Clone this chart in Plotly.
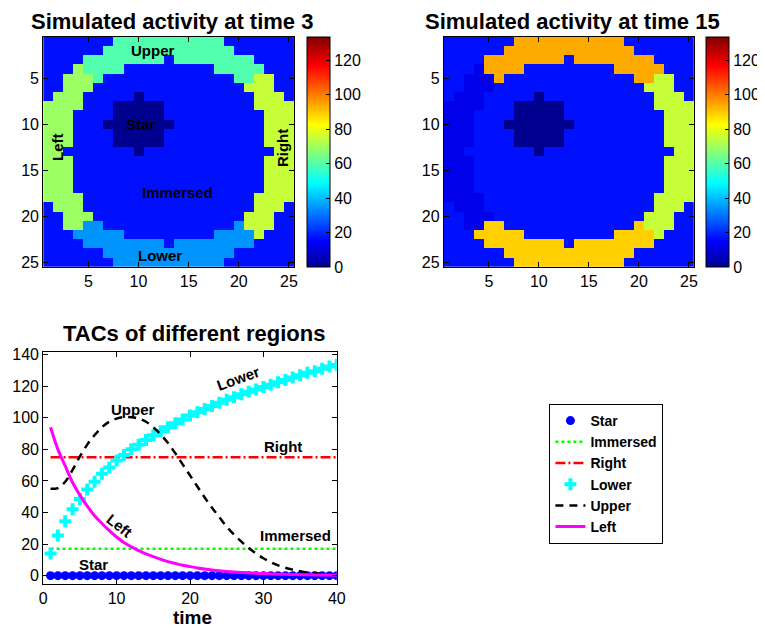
import plotly.graph_objects as go

# ---------------- data ----------------
time = [1, 2, 3, 4, 5, 6, 7, 8, 9, 10, 11, 12, 13, 14, 15, 16, 17, 18, 19, 20,
        21, 22, 23, 24, 25, 26, 27, 28, 29, 30, 31, 32, 33, 34, 35, 36, 37, 38, 39, 40]

star = [0, 0, 0, 0, 0, 0, 0, 0, 0, 0, 0, 0, 0, 0, 0, 0, 0, 0, 0, 0,
        0, 0, 0, 0, 0, 0, 0, 0, 0, 0, 0, 0, 0, 0, 0, 0, 0, 0, 0, 0]
immersed = [17, 17, 17, 17, 17, 17, 17, 17, 17, 17, 17, 17, 17, 17, 17, 17, 17, 17, 17, 17,
            17, 17, 17, 17, 17, 17, 17, 17, 17, 17, 17, 17, 17, 17, 17, 17, 17, 17, 17, 17]
right = [75, 75, 75, 75, 75, 75, 75, 75, 75, 75, 75, 75, 75, 75, 75, 75, 75, 75, 75, 75,
         75, 75, 75, 75, 75, 75, 75, 75, 75, 75, 75, 75, 75, 75, 75, 75, 75, 75, 75, 75]
lower = [14, 25.5, 34.5, 42, 48.5, 54.5, 59.5, 64.5, 68.5, 73, 76.5, 80, 83, 86, 89, 91.5, 94, 96.5, 99, 101.5,
         103.5, 105.5, 107.5, 109.5, 111.5, 113, 115, 116.5, 118, 119.5, 121, 122.5, 124, 125.5, 127, 128.5, 129.5, 131, 132.5, 133.5]
upper = [55, 55.5, 59.5, 67, 75.5, 83, 89, 94, 97.5, 99.5, 100.5, 100.3, 99.5, 97.5, 94, 89.5, 84, 77.5, 70.5, 63.5,
         56.5, 49.5, 43, 37, 31, 26, 21.5, 17.5, 14, 11, 8.5, 6.5, 5, 3.8, 2.8, 2, 1.5, 1.1, 0.9, 0.7]
left = [94, 80, 69.5, 59, 51, 44, 38, 33, 28.5, 24.5, 21, 18.3, 15.8, 13.8, 12, 10.3, 8.9, 7.7, 6.6, 5.7,
        4.9, 4.2, 3.6, 3.1, 2.7, 2.3, 2.0, 1.7, 1.5, 1.3, 1.1, 0.95, 0.8, 0.7, 0.6, 0.52, 0.45, 0.4, 0.35, 0.3]

# region map of the 25x25 phantom ('.' = background, same as immersed)
region_map = [
    ".......UUUUUUUUUUU.......",
    "......UUUUUUUUUUUUU......",
    "....UUUUUUUUIUUUUUUUU....",
    "...LUUUUIIIIIIIIIUUUUU...",
    "..LLLUIIIIIIIIIIIIIUURR..",
    "..LLLIIIIIIIIIIIIIIIRRR..",
    ".LLLIIIIISIIIIIIIIIIIRRR.",
    "LLLLIIISSSSSIIIIIIIIIRRRR",
    "LLLIIIISSSSSIIIIIIIIIIRRR",
    "LLLIIISSSSSSSIIIIIIIIIRRR",
    "LLLIIIISSSSSIIIIIIIIIIRRR",
    "LLLIIIISSSSSIIIIIIIIIIRRR",
    "LLIIIIIIISIIIIIIIIIIIIIRR",
    "LLLIIIIIIIIIIIIIIIIIIIRRR",
    "LLLIIIIIIIIIIIIIIIIIIIRRR",
    "LLLIIIIIIIIIIIIIIIIIIIRRR",
    "LLLIIIIIIIIIIIIIIIIIIIRRR",
    "LLLLIIIIIIIIIIIIIIIIIRRRR",
    ".LLLIIIIIIIIIIIIIIIIIRRR.",
    "..LLLIIIIIIIIIIIIIIIRRR..",
    "..LLDDIIIIIIIIIIIIIDRRR..",
    "...DDDDDIIIIIIIIIDDDDR...",
    "....DDDDDDDDIDDDDDDDD....",
    "......DDDDDDDDDDDDD......",
    ".......DDDDDDDDDDD.......",
]
pixel_idx = list(range(1, 26))
frames = [3, 15]
axis_ticks = [5, 10, 15, 20, 25]
cbar_ticks = [0, 20, 40, 60, 80, 100, 120]
line_xticks = [0, 10, 20, 30, 40]
line_yticks = [0, 20, 40, 60, 80, 100, 120, 140]

series = {"S": star, "I": immersed, ".": immersed, "R": right,
          "D": lower, "U": upper, "L": left}


def frame_image(t):
    k = time.index(t)
    return [[series[ch][k] for ch in row] for row in region_map]


zmax = max(max(star), max(immersed), max(right), max(lower), max(upper), max(left))

jet = [[0.0, "rgb(0,0,143)"], [7 / 63, "rgb(0,0,255)"], [23 / 63, "rgb(0,255,255)"],
       [39 / 63, "rgb(255,255,0)"], [55 / 63, "rgb(255,0,0)"], [1.0, "rgb(128,0,0)"]]

# the page body has an 8px margin: size the figure to the visible area
OFF = 8
W, H = 765 - OFF, 629 - OFF
FONT = "Liberation Sans"


def px(xs):
    return (xs - OFF) / W


def py(ys):
    return 1 - (ys - OFF) / H


fig = go.Figure()

cb_x = [308, 708]
for i, t in enumerate(frames):
    fig.add_trace(go.Heatmap(
        z=frame_image(t), x=pixel_idx, y=pixel_idx,
        colorscale=jet, zmin=0, zmax=zmax,
        xaxis="x" if i == 0 else "x2", yaxis="y" if i == 0 else "y2",
        showscale=True, hoverinfo="skip",
        colorbar=dict(
            x=px(cb_x[i]), xanchor="left", xref="paper",
            y=py(267), yanchor="bottom", yref="paper",
            len=230 / H, lenmode="fraction", thickness=23, thicknessmode="pixels",
            xpad=0, ypad=0, outlinecolor="black", outlinewidth=1,
            ticks="inside", ticklen=4, tickcolor="black",
            tickvals=cbar_ticks, tickfont=dict(size=16, color="black", family=FONT),
        ),
    ))

# line chart traces
fig.add_trace(go.Scatter(x=time, y=star, mode="markers", name="Star",
                         marker=dict(symbol="circle", size=9, color="rgb(0,0,255)"),
                         xaxis="x3", yaxis="y3"))
fig.add_trace(go.Scatter(x=time, y=immersed, mode="lines", name="Immersed",
                         line=dict(color="rgb(0,255,0)", width=2.5, dash="dot"),
                         xaxis="x3", yaxis="y3"))
fig.add_trace(go.Scatter(x=time, y=right, mode="lines", name="Right",
                         line=dict(color="rgb(255,0,0)", width=2.5, dash="10px,3px,2px,3px"),
                         xaxis="x3", yaxis="y3"))
fig.add_trace(go.Scatter(x=time, y=lower, mode="markers", name="Lower",
                         marker=dict(symbol="cross", size=10, color="rgb(0,255,255)"),
                         xaxis="x3", yaxis="y3"))
fig.add_trace(go.Scatter(x=time, y=upper, mode="lines", name="Upper",
                         line=dict(color="black", width=2.5, dash="8px,6px", shape="spline"),
                         xaxis="x3", yaxis="y3"))
fig.add_trace(go.Scatter(x=time, y=left, mode="lines", name="Left",
                         line=dict(color="rgb(255,0,255)", width=3, shape="spline"),
                         xaxis="x3", yaxis="y3"))

axis_common = dict(showline=True, linecolor="black", linewidth=1, mirror="allticks",
                   ticks="inside", ticklen=5, tickcolor="black", showgrid=False, zeroline=False,
                   automargin=False,
                   tickfont=dict(size=16, color="black", family=FONT))

fig.update_layout(
    width=W, height=H, margin=dict(l=0, r=0, t=0, b=0, pad=0),
    paper_bgcolor="white", plot_bgcolor="white",
    font=dict(family=FONT, color="black"),
    xaxis=dict(domain=[px(43.3), px(294.7)], range=[0.5, 25.5], tickvals=axis_ticks,
               anchor="y", **axis_common),
    yaxis=dict(domain=[py(267), py(36.7)], range=[25.5, 0.5], tickvals=axis_ticks,
               anchor="x", **axis_common),
    xaxis2=dict(domain=[px(445), px(695.7)], range=[0.5, 25.5], tickvals=axis_ticks,
                anchor="y2", **axis_common),
    yaxis2=dict(domain=[py(267), py(36.7)], range=[25.5, 0.5], tickvals=axis_ticks,
                anchor="x2", **axis_common),
    xaxis3=dict(domain=[px(43.3), px(337.7)], range=[0, 40], tickvals=line_xticks,
                anchor="y3", **axis_common),
    yaxis3=dict(domain=[py(584), py(352.3)], range=[-5.3, 141.5], tickvals=line_yticks,
                anchor="x3", **axis_common),
    showlegend=True,
    legend=dict(x=px(608), y=py(474), xanchor="center", yanchor="middle",
                bordercolor="black", borderwidth=1, bgcolor="white",
                font=dict(size=14, color="black", family=FONT, weight="bold"),
                tracegroupgap=0, itemwidth=30),
)

bold15 = dict(size=15, color="black", family=FONT, weight="bold")
title_font = dict(size=22, color="black", family=FONT, weight="bold")
annos = [
    # titles
    dict(text="Simulated activity at time 3", x=px(172.5), y=1.0, xref="paper", yref="paper",
         yanchor="top", borderpad=0, font=title_font),
    dict(text="Simulated activity at time 15", x=px(574), y=1.0, xref="paper", yref="paper",
         yanchor="top", borderpad=0, font=title_font),
    dict(text="TACs of different regions", x=px(194), y=py(333), xref="paper", yref="paper",
         font=title_font),
    dict(text="time", x=px(192.5), y=py(617), xref="paper", yref="paper",
         font=dict(size=19, color="black", family=FONT, weight="bold")),
    # heatmap labels
    dict(text="Upper", x=11.4, y=2.05, xref="x", yref="y", font=bold15),
    dict(text="Star", x=10.2, y=10.0, xref="x", yref="y", font=bold15),
    dict(text="Left", x=1.85, y=12.5, xref="x", yref="y", font=bold15, textangle=-90),
    dict(text="Right", x=24.3, y=12.6, xref="x", yref="y", font=bold15, textangle=-90),
    dict(text="Immersed", x=13.9, y=17.4, xref="x", yref="y", font=bold15),
    dict(text="Lower", x=12.1, y=24.3, xref="x", yref="y", font=bold15),
    # line chart labels
    dict(text="Lower", x=26.5, y=124.9, xref="x3", yref="y3", font=bold15, textangle=-20),
    dict(text="Upper", x=12.2, y=105.2, xref="x3", yref="y3", font=bold15),
    dict(text="Right", x=32.6, y=82, xref="x3", yref="y3", font=bold15),
    dict(text="Left", x=10.4, y=32, xref="x3", yref="y3", font=bold15, textangle=38),
    dict(text="Immersed", x=34.4, y=25.5, xref="x3", yref="y3", font=bold15),
    dict(text="Star", x=6.8, y=6.8, xref="x3", yref="y3", font=bold15),
]
for a in annos:
    a.setdefault("showarrow", False)
    a.setdefault("xanchor", "center")
    a.setdefault("yanchor", "middle")
fig.update_layout(annotations=annos)

fig.write_html("out.html")
